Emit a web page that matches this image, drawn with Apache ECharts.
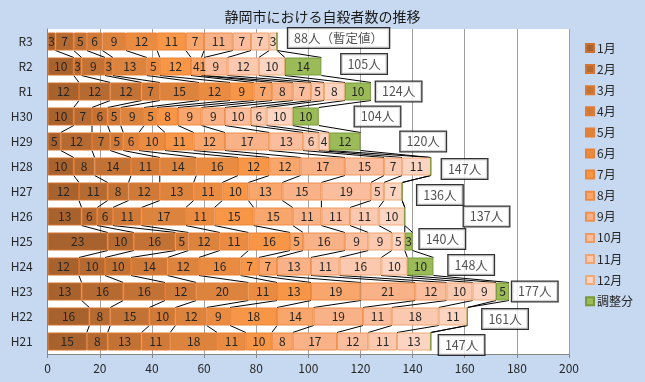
<!DOCTYPE html>
<html>
<head>
<meta charset="utf-8">
<script src="https://cdn.jsdelivr.net/npm/echarts@6/dist/echarts.min.js"></script>
<style>
html,body{margin:0;padding:0;background:#C6D9F1;}
#c{width:645px;height:382px;}
</style>
</head>
<body>
<div id="c"></div>
<script>
const categories = ['R3','R2','R1','H30','H29','H28','H27','H26','H25','H24','H23','H22','H21'];
const seriesNames = ['1月','2月','3月','4月','5月','6月','7月','8月','9月','10月','11月','12月','調整分'];
const jan = [3,10,12,10,5,10,12,13,23,12,13,16,15];
const feb = [7,3,12,7,12,8,11,6,10,10,16,8,8];
const mar = [5,9,12,6,7,14,8,6,16,10,16,15,13];
const apr = [6,3,7,5,5,11,12,11,5,14,12,10,11];
const may = [9,13,15,9,6,14,13,17,12,12,20,12,18];
const jun = [12,5,12,5,10,16,11,11,11,16,11,9,11];
const jul = [11,12,9,8,11,12,10,15,16,7,13,18,10];
const aug = [7,4,7,9,12,12,13,15,5,7,19,14,8];
const sep = [11,1,8,9,17,17,15,11,16,13,21,19,17];
const oct = [7,9,7,10,13,15,19,11,9,11,12,11,12];
const nov = [7,12,5,6,6,7,5,11,9,16,10,18,11];
const dec = [3,10,8,10,4,11,7,10,5,10,9,11,13];
const adj = [0,14,10,10,12,0,0,0,3,10,5,0,0];
const totalNotes = ['（暫定値）','','','','','','','','','','','',''];
const xTicks = [0,200,20];

// styling
const colors = ['#A8622D','#B56A31','#C27234','#CF7A38','#DC833D','#E98C41','#F79646','#F8A66B','#F9B287','#FABE9E','#FBC9B0','#FCD5C2','#9BBB59'];
const borders = ['#D0702E','#D8742F','#DE7830','#E27B32','#E67E34','#EA8236','#EC8436','#EE8A44','#EE9050','#EF9A60','#F0A470','#F0AA7A','#7A9A3A'];
const labelDx = [11,20,5,36,40,11,15,59,7,15,3,15,8];
const labelDy = [-3.5,-2.5,0,0,0,2.5,3.5,0,-2.5,-1.5,0,2.5,3.5];
const BAR_W = 18;

const values = [jan,feb,mar,apr,may,jun,jul,aug,sep,oct,nov,dec,adj];
const cum = values.map((_, k) => categories.map((c, i) => {
  let s = 0; for (let j = 0; j <= k; j++) s += values[j][i]; return s;
}));
const totals = cum[cum.length - 1];

const FONT = '"Noto Sans CJK JP","Noto Sans",sans-serif';

const barSeries = values.map((arr, k) => ({
  name: seriesNames[k],
  type: 'bar',
  stack: 'total',
  barWidth: BAR_W,
  data: arr,
  itemStyle: { color: colors[k], borderColor: borders[k], borderWidth: 1 },
  label: {
    show: true, position: 'inside', color: '#262626', fontSize: 12, fontFamily: FONT,
    formatter: p => p.value === 0 ? '' : String(p.value)
  },
  z: 3
}));

const lineSeries = {
  type: 'custom',
  silent: true,
  z: 1,
  data: categories.slice(0, -1).map((c, i) => [0, i]),
  encode: { x: 0, y: 1 },
  renderItem: (params, api) => {
    const i = api.value(1);
    const children = [];
    for (let k = 0; k < cum.length; k++) {
      const p1 = api.coord([cum[k][i], i]);
      const p2 = api.coord([cum[k][i + 1], i + 1]);
      children.push({
        type: 'line',
        shape: { x1: p1[0], y1: p1[1] + BAR_W / 2, x2: p2[0], y2: p2[1] - BAR_W / 2 },
        style: { stroke: '#000', lineWidth: 1 }
      });
    }
    return { type: 'group', children };
  }
};

const totalSeries = {
  type: 'scatter',
  symbol: 'rect',
  symbolSize: 0.1,
  silent: true,
  z: 5,
  itemStyle: { color: 'rgba(0,0,0,0)' },
  data: totals.map((t, i) => ({
    value: [t, i],
    label: { offset: [labelDx[i], labelDy[i]] }
  })),
  label: {
    show: true, position: 'right', distance: 0,
    formatter: p => totals[p.dataIndex] + '人' + totalNotes[p.dataIndex],
    color: '#262626', fontSize: 12.5, fontFamily: FONT,
    backgroundColor: '#fff', borderColor: '#000', borderWidth: 1.3,
    padding: [4, 6, 3, 6]
  }
};

const chart = echarts.init(document.getElementById('c'));
chart.setOption({
  backgroundColor: '#C6D9F1',
  animation: false,
  title: {
    text: '静岡市における自殺者数の推移', left: 'center', top: 5,
    textStyle: { fontSize: 14, fontWeight: 'normal', color: '#1a1a1a', fontFamily: FONT }
  },
  legend: {
    orient: 'vertical', left: 580, top: 37,
    data: seriesNames,
    itemWidth: 8, itemHeight: 8, itemGap: 9.1,
    icon: 'rect',
    textStyle: { fontSize: 12, color: '#262626', fontFamily: FONT, padding: [0,0,0,-2] }
  },
  grid: {
    left: 47.7, right: 76, top: 29, bottom: 28,
    show: true, backgroundColor: '#fff', borderWidth: 0
  },
  xAxis: {
    type: 'value', min: xTicks[0], max: xTicks[1], interval: xTicks[2],
    axisLine: { show: true, lineStyle: { color: '#868686' } },
    axisTick: { show: true, length: 4, lineStyle: { color: '#868686' } },
    splitLine: { show: true, lineStyle: { color: '#A0A0A0', width: 1 } },
    axisLabel: { color: '#262626', fontSize: 12, fontFamily: FONT, margin: 8 }
  },
  yAxis: {
    type: 'category', data: categories, inverse: true,
    axisLine: { show: true, lineStyle: { color: '#868686' } },
    axisTick: { show: false },
    axisLabel: { color: '#262626', fontSize: 12, fontFamily: FONT, margin: 15 }
  },
  series: [lineSeries, ...barSeries, totalSeries]
});
</script>
</body>
</html>
